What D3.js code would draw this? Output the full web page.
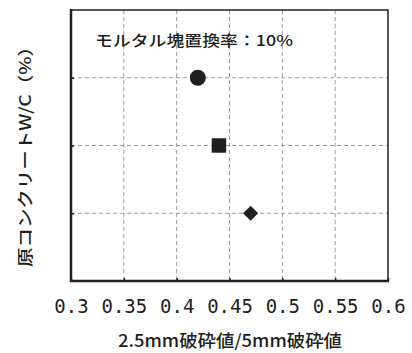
<!DOCTYPE html>
<html>
<head>
<meta charset="utf-8">
<script src="https://cdn.jsdelivr.net/npm/d3@7"></script>
<style>
  html, body { margin: 0; padding: 0; background: #fff; }
  svg { display: block; }
</style>
</head>
<body>
<svg id="chart" width="412" height="353"></svg>
<script>
// ---- data ----
const xTicks = [0.3, 0.35, 0.4, 0.45, 0.5, 0.55, 0.6];
const xTickLabels = ["0.3", "0.35", "0.4", "0.45", "0.5", "0.55", "0.6"];
const yTicks = [1, 2, 3];
const seriesNames = ["A", "B", "C"];
const seriesShapes = ["circle", "square", "diamond"];
const xValues = [0.42, 0.44, 0.47];
const yValues = [3, 2, 1];
const annotation = "モルタル塊置換率：10%";
const xTitle = "2.5mm破砕値/5mm破砕値";
const yTitle = "原コンクリートW/C（%）";

// ---- layout ----
const svg = d3.select("#chart");
const pL = 71, pR = 388, pT = 10, pB = 281;
const x = d3.scaleLinear().domain([0.3, 0.6]).range([pL, pR]);
const y = d3.scaleLinear().domain([0, 4]).range([pB, pT]);
const ink = "#231f20";

// grid
const g = svg.append("g");
g.selectAll("line.vg").data(xTicks.slice(1, -1)).join("line")
  .attr("x1", d => x(d)).attr("x2", d => x(d))
  .attr("y1", pT).attr("y2", pB)
  .attr("stroke", "#9a9a9a").attr("stroke-width", 1)
  .attr("stroke-dasharray", "4,3");
g.selectAll("line.hg").data(yTicks).join("line")
  .attr("x1", pL).attr("x2", pR)
  .attr("y1", d => y(d)).attr("y2", d => y(d))
  .attr("stroke", "#9a9a9a").attr("stroke-width", 1)
  .attr("stroke-dasharray", "4,3");

// x axis
const xAxis = d3.axisBottom(x).tickValues(xTicks)
  .tickSize(-3).tickPadding(19)
  .tickFormat((d, i) => xTickLabels[i]);
const xa = svg.append("g").attr("transform", `translate(0,${pB})`).call(xAxis);
xa.select(".domain").remove();
xa.selectAll(".tick line").attr("stroke", ink).attr("stroke-width", 1.5);
xa.selectAll(".tick text")
  .attr("fill", ink)
  .style("font-family", "'DejaVu Sans Mono', 'Liberation Mono', monospace")
  .style("font-size", "19px");

// y axis (ticks only, no labels)
const yAxis = d3.axisLeft(y).tickValues(yTicks).tickSize(-3).tickFormat("");
const ya = svg.append("g").attr("transform", `translate(${pL},0)`).call(yAxis);
ya.select(".domain").remove();
ya.selectAll(".tick line").attr("stroke", ink).attr("stroke-width", 1.5);

// frame
svg.append("rect")
  .attr("x", pL).attr("y", pT)
  .attr("width", pR - pL).attr("height", pB - pT)
  .attr("fill", "none").attr("stroke", ink).attr("stroke-width", 1.5);
svg.append("line").attr("x1", pL).attr("x2", pL).attr("y1", pT - 1).attr("y2", pB + 1)
  .attr("stroke", ink).attr("stroke-width", 2.5);
svg.append("line").attr("x1", pL - 1).attr("x2", pR + 1).attr("y1", pB).attr("y2", pB)
  .attr("stroke", ink).attr("stroke-width", 2.5);

// points
const symbolMap = { circle: d3.symbolCircle, square: d3.symbolSquare, diamond: d3.symbolSquare };
const sizeMap = { circle: 200, square: 210, diamond: 115 };
const rotMap = { circle: 0, square: 0, diamond: 45 };
svg.append("g").selectAll("path").data(seriesNames).join("path")
  .attr("transform", (d, i) => `translate(${x(xValues[i])},${y(yValues[i])}) rotate(${rotMap[seriesShapes[i]]})`)
  .attr("d", (d, i) => d3.symbol().type(symbolMap[seriesShapes[i]]).size(sizeMap[seriesShapes[i]])())
  .attr("fill", ink);

// annotation
svg.append("text")
  .attr("x", 95).attr("y", 46)
  .attr("textLength", 198).attr("lengthAdjust", "spacingAndGlyphs")
  .style("font-family", "'Noto Sans CJK JP', sans-serif")
  .style("font-size", "15px").style("font-weight", 500)
  .attr("fill", ink)
  .text(annotation);

// x title
svg.append("text")
  .attr("x", 118).attr("y", 347)
  .attr("textLength", 224).attr("lengthAdjust", "spacingAndGlyphs")
  .style("font-family", "'Noto Sans CJK JP', sans-serif")
  .style("font-size", "17px").style("font-weight", 500)
  .attr("fill", ink)
  .text(xTitle);

// y title
svg.append("text")
  .attr("transform", "translate(31,152) rotate(-90)")
  .attr("text-anchor", "middle")
  .attr("textLength", 230).attr("lengthAdjust", "spacingAndGlyphs")
  .style("font-family", "'Noto Sans CJK JP', sans-serif")
  .style("font-size", "16px").style("font-weight", 500)
  .attr("fill", ink)
  .text(yTitle);
</script>
</body>
</html>
